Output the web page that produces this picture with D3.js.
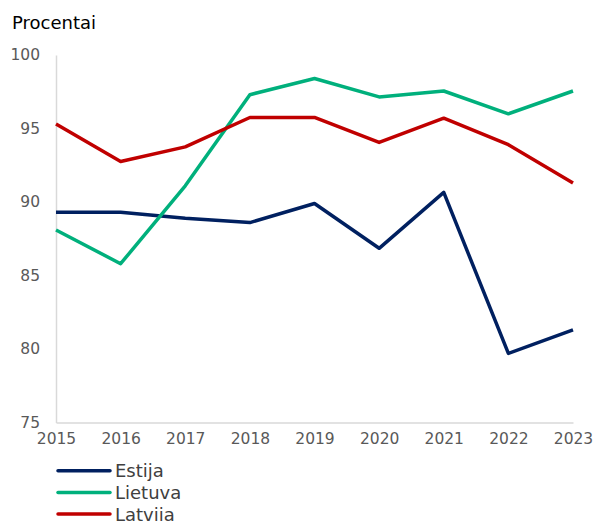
<!DOCTYPE html>
<html>
<head>
<meta charset="utf-8">
<script src="https://cdn.jsdelivr.net/npm/d3@7"></script>
<style>
  html, body { margin: 0; padding: 0; background: #fff; }
  svg { display: block; font-family: Verdana, "DejaVu Sans", sans-serif; }
</style>
</head>
<body>
<svg id="chart" width="593" height="521"></svg>
<script>
// Years on the horizontal axis
const years = [2015, 2016, 2017, 2018, 2019, 2020, 2021, 2022, 2023];

// Shares in percent, one array per country
const estija  = [89.3, 89.3, 88.9, 88.6, 89.9, 86.85, 90.65, 79.7, 81.3];
const lietuva = [88.1, 85.8, 91.1, 97.3, 98.4, 97.15, 97.55, 96.0, 97.55];
const latvija = [95.3, 92.75, 93.75, 95.75, 95.75, 94.05, 95.7, 93.9, 91.3];

const yTicks = [75, 80, 85, 90, 95, 100];

const series = [
  { name: "Estija",  values: estija,  color: "#002060" },
  { name: "Lietuva", values: lietuva, color: "#00b07c" },
  { name: "Latvija", values: latvija, color: "#c00000" }
];

const svg = d3.select("#chart");

const x = d3.scaleLinear().domain([2015, 2023]).range([56, 573]);
const y = d3.scaleLinear().domain([75, 100]).range([422.5, 55]);

// Unit caption
svg.append("text")
  .attr("x", 12).attr("y", 29)
  .attr("font-size", 18).attr("fill", "#000")
  .text("Procentai");

// Y axis
const yAxis = svg.append("g")
  .attr("transform", "translate(56,0)")
  .call(d3.axisLeft(y).tickValues(yTicks).tickSize(0).tickPadding(16).tickFormat(d3.format("d")));
yAxis.select(".domain").attr("stroke", "#d9d9d9").attr("stroke-width", 1.5);
yAxis.selectAll("text").attr("font-size", 15.5).attr("fill", "#595959")
  .attr("font-family", "Verdana, 'DejaVu Sans', sans-serif");

// X axis
const xAxis = svg.append("g")
  .attr("transform", "translate(0,422.5)")
  .call(d3.axisBottom(x).tickValues(years).tickSize(0).tickPadding(10).tickFormat(d3.format("d")));
xAxis.select(".domain").attr("stroke", "#d9d9d9").attr("stroke-width", 1.5);
xAxis.selectAll("text").attr("font-size", 15.5).attr("fill", "#595959")
  .attr("font-family", "Verdana, 'DejaVu Sans', sans-serif");

// Lines
const line = d3.line()
  .x((d, i) => x(years[i]))
  .y(d => y(d));

svg.append("g").selectAll("path")
  .data(series)
  .join("path")
  .attr("fill", "none")
  .attr("stroke", d => d.color)
  .attr("stroke-width", 3.5)
  .attr("stroke-linejoin", "round")
  .attr("d", d => line(d.values));

// Legend
const legend = svg.append("g").selectAll("g")
  .data(series)
  .join("g")
  .attr("transform", (d, i) => `translate(0,${470.7 + i * 21.7})`);

legend.append("line")
  .attr("x1", 58).attr("x2", 110)
  .attr("y1", 0).attr("y2", 0)
  .attr("stroke", d => d.color)
  .attr("stroke-width", 3.5)
  .attr("stroke-linecap", "round");

legend.append("text")
  .attr("x", 115).attr("y", 0)
  .attr("dy", "0.36em")
  .attr("font-size", 18).attr("fill", "#404040")
  .text(d => d.name);
</script>
</body>
</html>
